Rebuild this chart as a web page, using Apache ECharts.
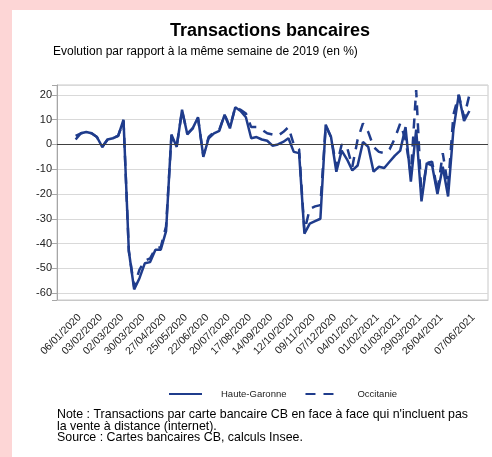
<!DOCTYPE html>
<html>
<head>
<meta charset="utf-8">
<title>Transactions bancaires</title>
<script src="https://cdn.jsdelivr.net/npm/echarts/dist/echarts.min.js"></script>
<style>
  html, body { margin: 0; padding: 0; background: #fdd6d6; overflow: hidden; }
  .panel { position: absolute; left: 12px; top: 10px; width: 480px; height: 447px; background: #fff; }
  #chart { position: absolute; left: 0; top: 0; width: 492px; height: 457px; }
</style>
</head>
<body>
<div class="panel"></div>
<div id="chart"></div>
<script>
// semaines (lundi) du 06/01/2020 au 07/06/2021
var weeks = [
  '06/01/2020', '13/01/2020', '20/01/2020', '27/01/2020', '03/02/2020', '10/02/2020', '17/02/2020', '24/02/2020',
  '02/03/2020', '09/03/2020', '16/03/2020', '23/03/2020', '30/03/2020', '06/04/2020', '13/04/2020', '20/04/2020',
  '27/04/2020', '04/05/2020', '11/05/2020', '18/05/2020', '25/05/2020', '01/06/2020', '08/06/2020', '15/06/2020',
  '22/06/2020', '29/06/2020', '06/07/2020', '13/07/2020', '20/07/2020', '27/07/2020', '03/08/2020', '10/08/2020',
  '17/08/2020', '24/08/2020', '31/08/2020', '07/09/2020', '14/09/2020', '21/09/2020', '28/09/2020', '05/10/2020',
  '12/10/2020', '19/10/2020', '26/10/2020', '02/11/2020', '09/11/2020', '16/11/2020', '23/11/2020', '30/11/2020',
  '07/12/2020', '14/12/2020', '21/12/2020', '28/12/2020', '04/01/2021', '11/01/2021', '18/01/2021', '25/01/2021',
  '01/02/2021', '08/02/2021', '15/02/2021', '22/02/2021', '01/03/2021', '08/03/2021', '15/03/2021', '22/03/2021',
  '29/03/2021', '05/04/2021', '12/04/2021', '19/04/2021', '26/04/2021', '03/05/2021', '10/05/2021', '17/05/2021',
  '24/05/2021', '31/05/2021', '07/06/2021'
];

// dates affichees sur l'axe
var tickLabels = [
  '06/01/2020', '03/02/2020', '02/03/2020', '30/03/2020', '27/04/2020', '25/05/2020', '22/06/2020', '20/07/2020',
  '17/08/2020', '14/09/2020', '12/10/2020', '09/11/2020', '07/12/2020', '04/01/2021', '01/02/2021', '01/03/2021',
  '29/03/2021', '26/04/2021', '07/06/2021'
];

var hauteGaronne = [
  3.5, 4.5, 5, 4.5, 3, -1, 2, 2.5,
  3.5, 10, -43, -58.5, -54, -48, -47.5, -42.5,
  -42.5, -35, 4, -1, 14, 4, 6.5, 11,
  -5, 2.5, 4.5, 5.5, 12, 6.5, 15, 13.5,
  11, 2.5, 3, 2, 1.5, -0.5, 0, 1,
  2.5, -3, -3.5, -36, -32, -31, -30, 8,
  3, -11, -2.5, -6, -10.5, -8.5, 1, -1,
  -11, -9, -9.5, -7, -4.5, -2.5, 7, -15,
  6, -23, -7.5, -8.5, -20, -9, -21, 6,
  20, 9.5, 13.5
];

var occitanie = [
  2, 4.5, 5, 4.5, 3, -1, 2, 2.5,
  3.5, 9.5, -43, -57.5, -50.5, -47, -46, -42,
  -41.5, -33, 3, -0.5, 13.5, 4.5, 6.5, 10.5,
  -4.5, 3, 5, 6, 12, 7, 15, 14,
  12.5, 7, 7, 6, 4.5, 4, 3.5, 5,
  7, 0, -2, -35, -26, -25, -24.5, 7.5,
  3, -9, 0, -1, -9, 2, 8.5, 5,
  -1, -3, -3.5, -2, 2.5, 8.5, 2, -12,
  22, -21, -7.5, -7, -19, -3.5, -17, 12,
  20, 11, 20
];

// marge vide de part et d'autre de la periode
var padLeft = ['p1', 'p2', 'p3'];
var padRight = ['p4', 'p5', 'p6'];
var padNull = [null, null, null];

var font = 'Liberation Sans, Arial, sans-serif';
var blue = '#1f3c8c';

function showTick(index, value) {
  return tickLabels.indexOf(value) >= 0;
}

var chart = echarts.init(document.getElementById('chart'));
var option = {
  animation: false,
  textStyle: { fontFamily: font },
  title: [
    {
      text: 'Transactions bancaires',
      left: 170,
      top: 20,
      padding: 0,
      textStyle: { fontSize: 18, fontWeight: 'bold', color: '#000', lineHeight: 22, fontFamily: font }
    },
    {
      text: 'Evolution par rapport à la même semaine de 2019 (en %)',
      left: 53,
      top: 45,
      padding: 0,
      textStyle: { fontSize: 12, fontWeight: 'normal', color: '#000', lineHeight: 14, fontFamily: font }
    },
    {
      text: "Note : Transactions par carte bancaire CB en face à face qui n'incluent pas\nla vente à distance (internet).\nSource : Cartes bancaires CB, calculs Insee.",
      left: 57,
      top: 409,
      padding: 0,
      textStyle: { fontSize: 12.4, fontWeight: 'normal', color: '#000', lineHeight: 11.5, fontFamily: font }
    }
  ],
  legend: {
    left: 168,
    top: 389,
    padding: 0,
    itemWidth: 33,
    itemHeight: 10,
    itemGap: 18,
    data: ['Haute-Garonne', 'Occitanie'],
    itemStyle: { color: 'rgba(0,0,0,0)', borderWidth: 0 },
    textStyle: { fontSize: 9.5, color: '#222', padding: [0, 0, 0, 14], fontFamily: font }
  },
  grid: {
    left: 57,
    right: 4,
    top: 85,
    bottom: 157,
    show: true,
    borderColor: '#c8c8c8',
    borderWidth: 1
  },
  xAxis: {
    type: 'category',
    boundaryGap: true,
    data: padLeft.concat(weeks, padRight),
    axisLine: { onZero: false, lineStyle: { color: '#c8c8c8' } },
    axisTick: { alignWithLabel: true, length: 5, interval: showTick, lineStyle: { color: '#a6a6a6' } },
    axisLabel: {
      interval: showTick,
      rotate: 45,
      margin: 12,
      verticalAlign: 'top',
      fontSize: 10.5,
      color: '#222',
      fontFamily: font
    },
    splitLine: { show: false }
  },
  yAxis: {
    type: 'value',
    min: -62.8,
    max: 24,
    splitNumber: 8,
    axisLine: { show: true, lineStyle: { color: '#a6a6a6' } },
    axisTick: { show: true, length: 5, lineStyle: { color: '#a6a6a6' } },
    axisLabel: {
      margin: 5,
      fontSize: 11,
      color: '#222',
      fontFamily: font,
      formatter: function (v) {
        return Math.abs(v % 10) < 1e-6 ? String(v) : '';
      }
    },
    splitLine: { lineStyle: { color: '#d9d9d9', width: 1 } }
  },
  series: [
    {
      name: 'Occitanie',
      type: 'line',
      data: padNull.concat(occitanie, padNull),
      symbol: 'none',
      lineStyle: { color: blue, width: 2.5, type: [10, 8] },
      itemStyle: { color: blue },
      z: 2
    },
    {
      name: 'Haute-Garonne',
      type: 'line',
      data: padNull.concat(hauteGaronne, padNull),
      symbol: 'none',
      lineStyle: { color: blue, width: 2.5 },
      itemStyle: { color: blue },
      z: 3,
      markLine: {
        silent: true,
        symbol: 'none',
        label: { show: false },
        lineStyle: { color: '#404040', width: 1, type: 'solid' },
        data: [{ yAxis: 0 }]
      }
    }
  ]
};
chart.setOption(option);
</script>
</body>
</html>
